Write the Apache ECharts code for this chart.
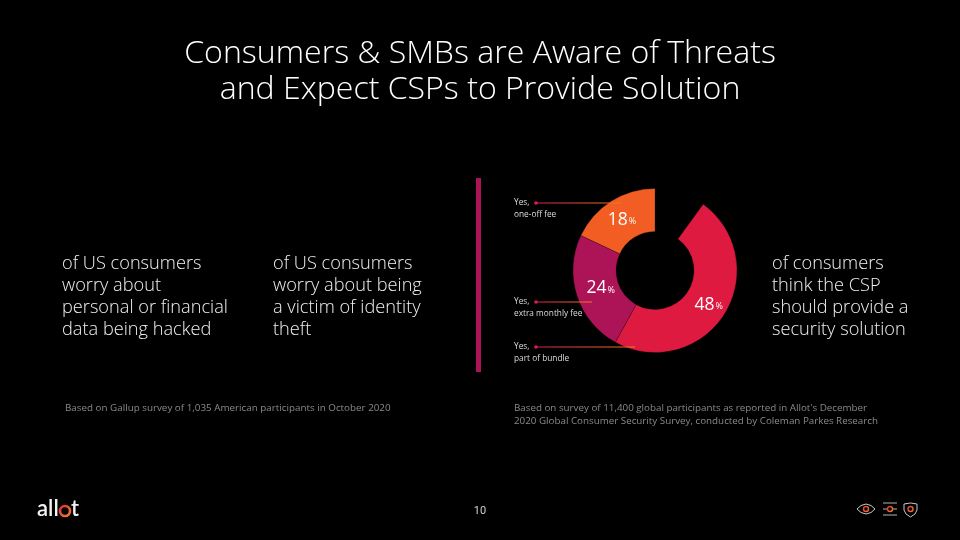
<!DOCTYPE html>
<html><head><meta charset="utf-8">
<style>html,body{margin:0;padding:0;background:#000}#c{width:960px;height:540px}</style>
<script src="https://cdn.jsdelivr.net/npm/echarts@6/dist/echarts.min.js"></script>
</head><body><div id="c"></div>
<script>
const categories = ['Yes, one-off fee', 'Yes, extra monthly fee', 'Yes, part of bundle'];
const values = [18, 24, 48];
const gapValue = [10];
const colors = ['#F15D22', '#AD1457', '#DE1A40'];
const titleLines = ['Consumers & SMBs are Aware of Threats', 'and Expect CSPs to Provide Solution'];
const col1 = ['of US consumers', 'worry about', 'personal or financial', 'data being hacked'];
const col2 = ['of US consumers', 'worry about being', 'a victim of identity', 'theft'];
const col3 = ['of consumers', 'think the CSP', 'should provide a', 'security solution'];
const note1 = ['Based on Gallup survey of 1,035 American participants in October 2020'];
const note2 = ['Based on survey of 11,400 global participants as reported in Allot\'s December', '2020 Global Consumer Security Survey, conducted by Coleman Parkes Research'];
const FONT = 'Open Sans';
const chart = echarts.init(document.getElementById('c'), null, {renderer: 'canvas'});

const G = [];
function txt(s, x, y, size, fill, align, extra) {
  G.push({type: 'text', z: 10, x, y, style: Object.assign({text: s, fontFamily: FONT, fontSize: size, fill, align: align || 'left', verticalAlign: 'middle', fontWeight: 300}, extra || {})});
}
titleLines.forEach((t, i) => txt(t, 480, 54 + i * 35.5, 32.1, '#fff', 'center'));
[[col1, 62], [col2, 273], [col3, 772]].forEach(([c, x]) => c.forEach((t, i) => txt(t, x, 264 + i * 22, 18.2, '#f0f0f0', 'left')));
note1.forEach((t) => txt(t, 65, 408, 9.83, '#8a8a8a', 'left', {fontWeight: 400}));
note2.forEach((t, i) => txt(t, 514, 408 + i * 13, 9.8, '#8a8a8a', 'left', {fontWeight: 400}));
txt('10', 480, 511, 11, '#d0d0d0', 'center', {fontFamily: 'Roboto', fontWeight: 400});

// divider
G.push({type: 'rect', z: 5, shape: {x: 476, y: 178, width: 5, height: 194}, style: {fill: '#AD1457'}});

// callouts
const callouts = [[203, 621, ['Yes,', 'one-off fee']], [302, 592, ['Yes,', 'extra monthly fee']], [347, 635, ['Yes,', 'part of bundle']]];
callouts.forEach(([y, x2, lines]) => {
  G.push({type: 'line', z: 20, shape: {x1: 536, y1: y, x2, y2: y}, style: {lineWidth: 1.2, stroke: new echarts.graphic.LinearGradient(0, 0, 1, 0, [{offset: 0, color: '#DE1A55'}, {offset: 1, color: '#F47A20'}])}});
  G.push({type: 'circle', z: 21, shape: {cx: 536, cy: y, r: 1.8}, style: {fill: '#DE1A55'}});
  lines.forEach((t, i) => txt(t, 514, y + i * 12, 8.3, '#dcdcdc', 'left', {fontWeight: 400}));
});

// logo
const grad = () => new echarts.graphic.LinearGradient(0, 0, 1, 1, [{offset: 0, color: '#DE1A40'}, {offset: 1, color: '#F7941D'}]);
txt('all', 37, 509, 22, '#f2f2f2', 'left', {fontWeight: 600, fontFamily: 'Lato'});
G.push({type: 'circle', z: 12, shape: {cx: 65, cy: 511, r: 5}, style: {fill: 'none', stroke: grad(), lineWidth: 2.6}});
txt('t', 71, 509, 22, '#f2f2f2', 'left', {fontWeight: 600, fontFamily: 'Lato'});

// icons
const ic = '#c8c8c8';
G.push({type: 'polygon', z: 12, shape: {points: [[857, 509], [861, 505.5], [866, 504], [871, 505.5], [875, 509], [871, 512.5], [866, 514], [861, 512.5]]}, style: {fill: 'none', stroke: ic, lineWidth: 1}});
G.push({type: 'circle', z: 13, shape: {cx: 866, cy: 509, r: 2.5}, style: {fill: 'none', stroke: grad(), lineWidth: 1.4}});
[503, 509, 515].forEach((y) => {
  G.push({type: 'line', z: 12, shape: {x1: 883, y1: y, x2: 897, y2: y}, style: {stroke: ic, lineWidth: 0.9}});
});
G.push({type: 'circle', z: 13, shape: {cx: 890, cy: 509, r: 2.5}, style: {fill: '#000', stroke: grad(), lineWidth: 1.4}});
G.push({type: 'polygon', z: 12, shape: {points: [[904, 504], [910.5, 503], [917, 504], [917, 510], [915, 514], [910.5, 517], [906, 514], [904, 510]]}, style: {fill: 'none', stroke: ic, lineWidth: 1}});
G.push({type: 'circle', z: 13, shape: {cx: 910.5, cy: 509, r: 2.5}, style: {fill: 'none', stroke: grad(), lineWidth: 1.4}});

const data = categories.map((n, i) => ({name: n, value: values[i], itemStyle: {color: colors[i]}, label: {offset: [[1, 3], [6, -2], [0, 0]][i]}}));
data.push({name: 'gap', value: gapValue[0], itemStyle: {color: 'rgba(0,0,0,0)', borderWidth: 0}, label: {show: false}, emphasis: {disabled: true}});

chart.setOption({
  backgroundColor: '#000',
  animation: false,
  tooltip: {show: false},
  series: [{
    type: 'pie',
    center: [655, 270.5],
    radius: [39, 82],
    startAngle: 90,
    clockwise: false,
    silent: true,
    avoidLabelOverlap: false,
    itemStyle: {borderColor: 'rgba(0,0,0,0.45)', borderWidth: 0.5},
    labelLine: {show: false},
    label: {
      show: true, position: 'inside', fontFamily: FONT,
      formatter: p => '{n|' + p.value + '}{p|%}',
      rich: {
        n: {fontSize: 17.5, color: '#fff', fontFamily: FONT, fontWeight: 500},
        p: {fontSize: 9, color: '#fff', fontFamily: FONT, padding: [4, 0, 0, 1]}
      }
    },
    data
  }],
  graphic: {elements: G}
});
</script></body></html>
